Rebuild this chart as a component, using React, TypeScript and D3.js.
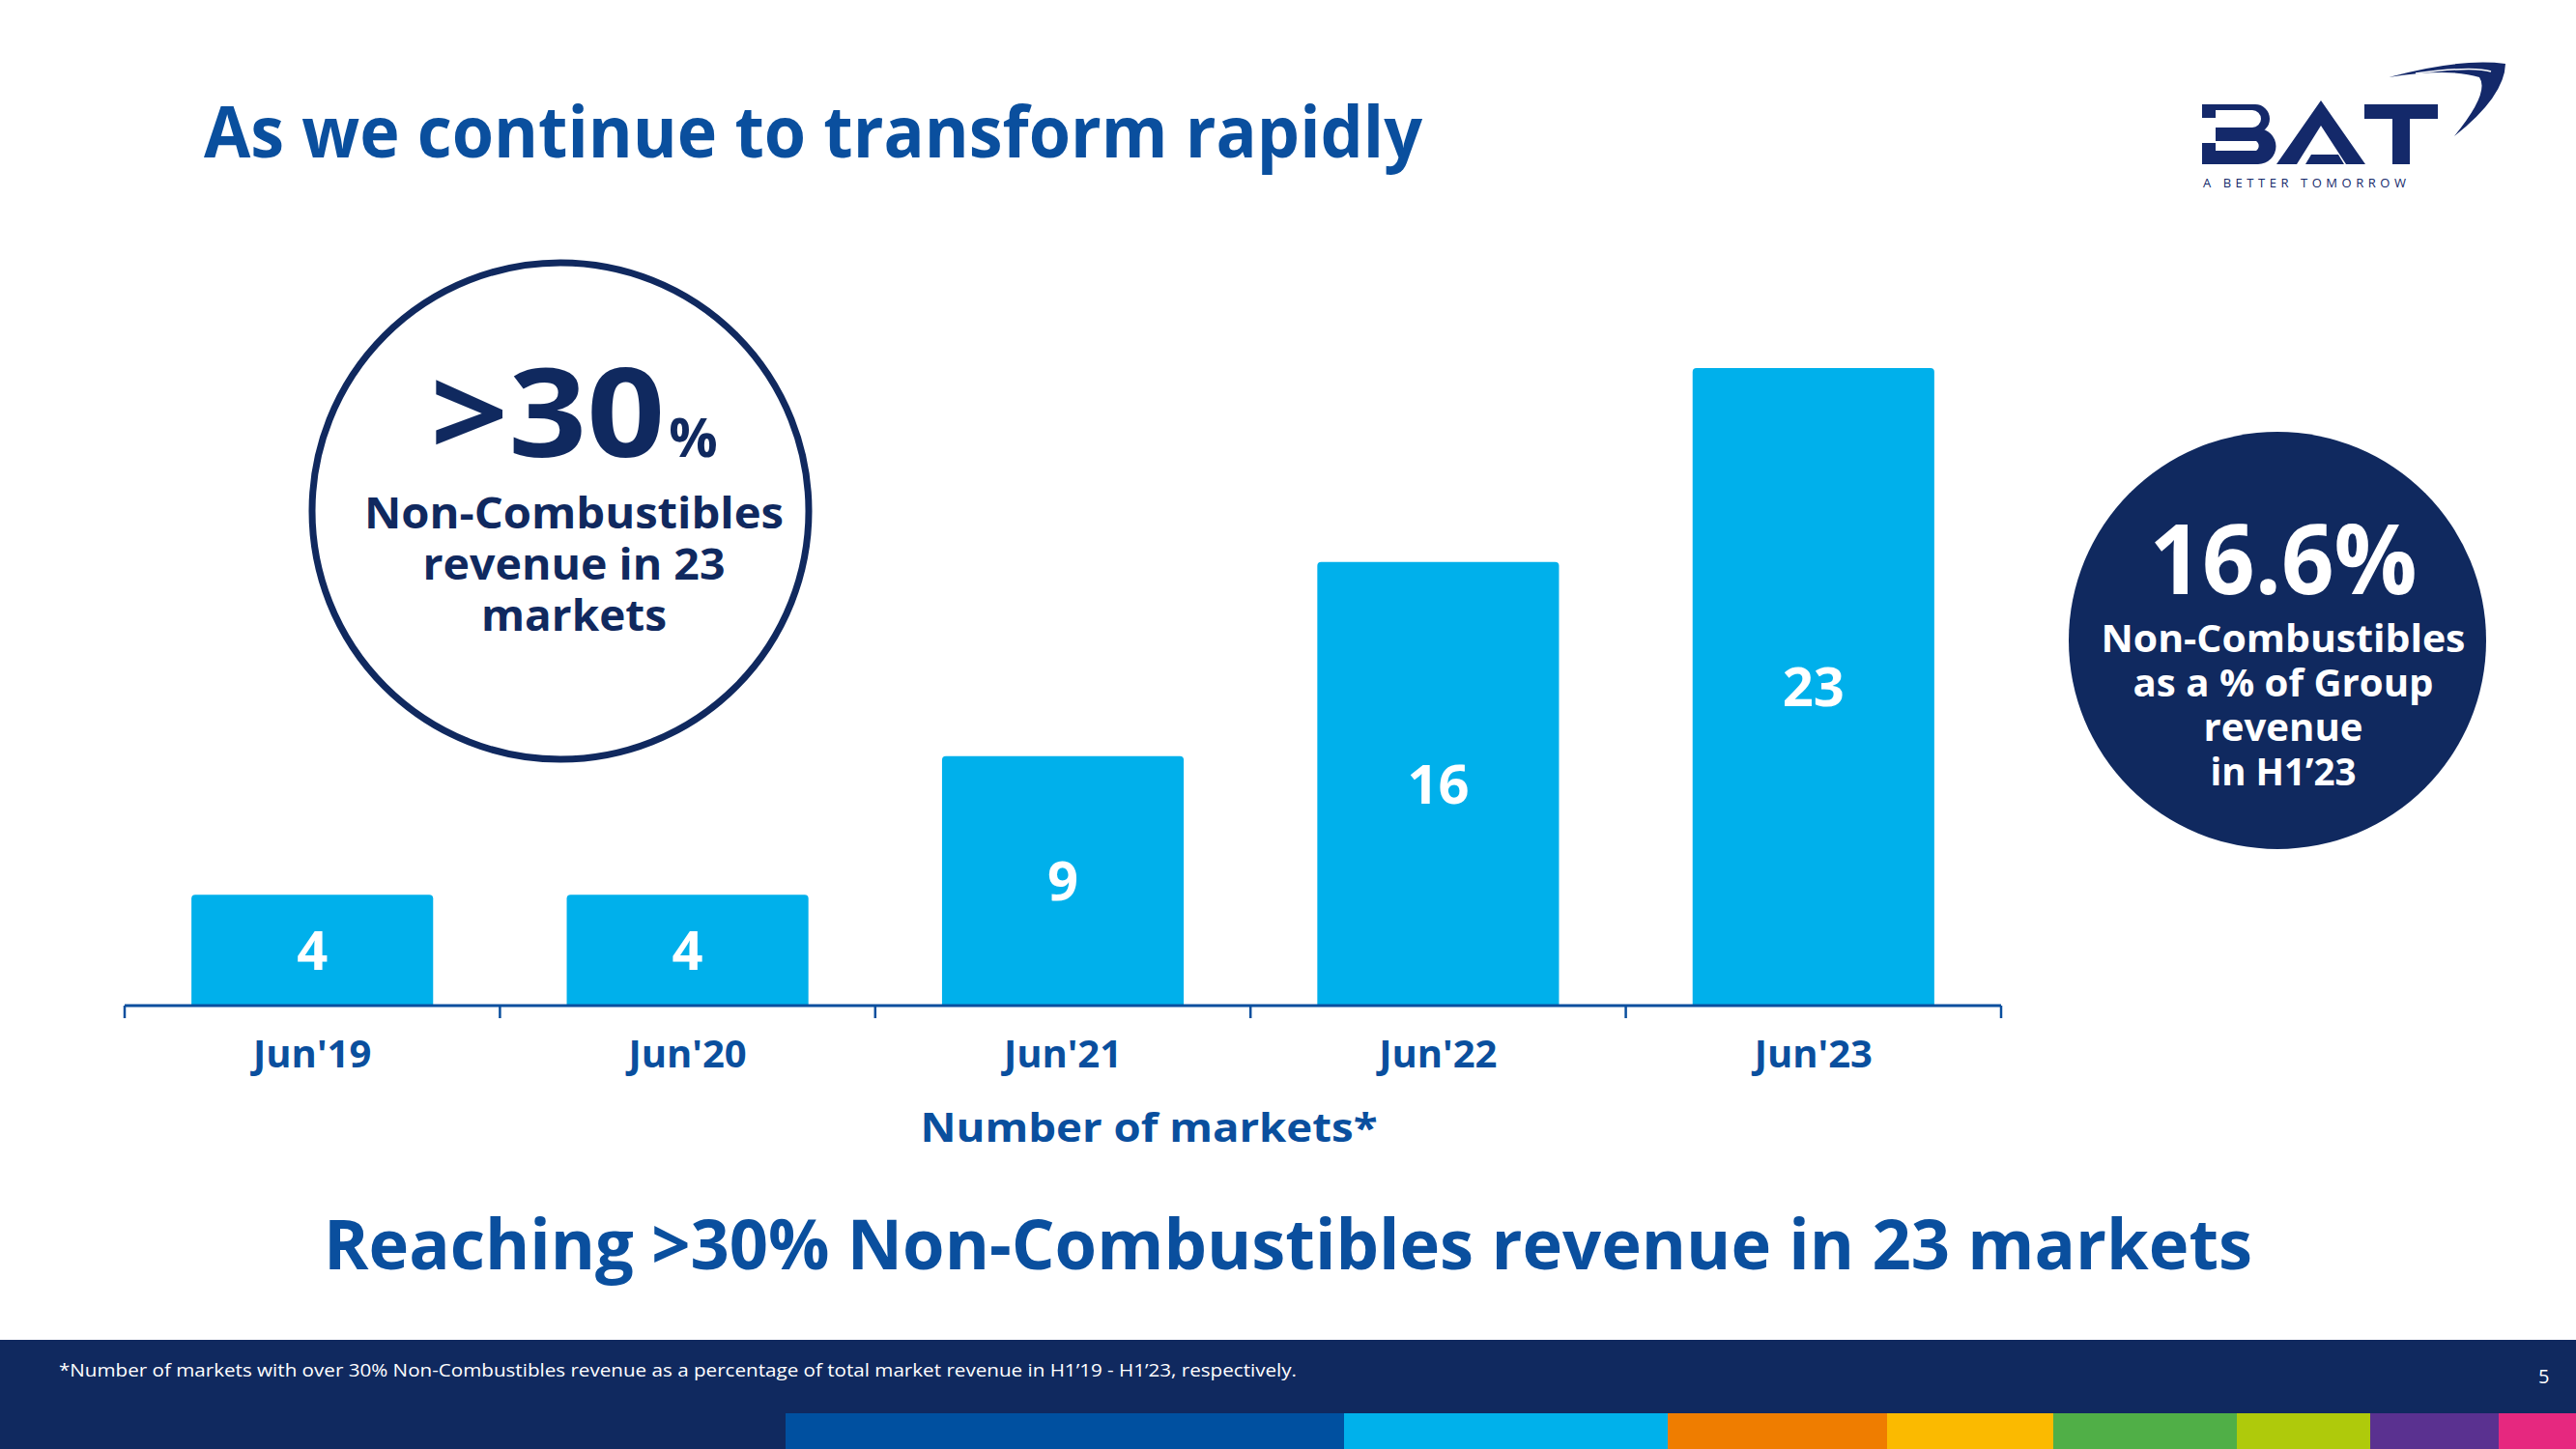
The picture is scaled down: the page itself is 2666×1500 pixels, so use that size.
import React from 'react';
import * as d3 from 'd3';

// ---------- data ----------
const categories: string[] = ["Jun'19", "Jun'20", "Jun'21", "Jun'22", "Jun'23"];
const markets: number[] = [4, 4, 9, 16, 23];
const axisTitle = 'Number of markets*';
const title = 'As we continue to transform rapidly';
const headline = 'Reaching >30% Non-Combustibles revenue in 23 markets';
const leftCircleLines: string[] = ['Non-Combustibles', 'revenue in 23', 'markets'];
const rightCircleLines: string[] = ['Non-Combustibles', 'as a % of Group', 'revenue', 'in H1\u201923'];
const footnote =
  '*Number of markets with over 30% Non-Combustibles revenue as a percentage of total market revenue in H1\u201919 - H1\u201923, respectively.';
const stripColors: string[] = ['#0050a0', '#00b1eb', '#ef7d00', '#fbba00', '#50af47', '#afca0b', '#5a3190', '#e6287f'];

// ---------- layout ----------
const W = 2666;
const H = 1500;
const stripEdges = [813, 1391, 1726, 1953, 2125, 2315, 2453, 2586, 2666];
const NAVY = '#10295f';
const BLUE = '#0a4f9e';
const CYAN = '#00b0eb';
const FONT = "'Open Sans', 'Noto Sans', sans-serif";

const x = d3.scaleBand<string>().domain(categories).range([129, 2071]).paddingInner(0.356).paddingOuter(0.178);
const y = d3.scaleLinear().domain([0, 23]).range([1041, 381]);

function topRoundedBar(x0: number, y0: number, w: number, h: number, r: number) {
  const p = d3.path();
  p.moveTo(x0, y0 + h);
  p.lineTo(x0, y0 + r);
  p.arcTo(x0, y0, x0 + r, y0, r);
  p.lineTo(x0 + w - r, y0);
  p.arcTo(x0 + w, y0, x0 + w, y0 + r, r);
  p.lineTo(x0 + w, y0 + h);
  p.closePath();
  return p.toString();
}

const leftWidths = [434, 313, 192];
const rightWidths = [377, 311, 165, 151];

function Logo() {
  const c = '#14296a';
  return (
    <g>
      {/* B */}
      <path
        d="M2279,108 H2334 A15,15 0 0 1 2334,138 H2293 V132 H2331 A9,9 0 0 0 2331,114 H2279 Z"
        fill={c}
      />
      <path d="M2279,108 H2293 V122 H2279 Z" fill={c} />
      <path d="M2293,133 H2337 A18.5,18.5 0 0 1 2337,170 H2279 V148 H2293 V156 H2335 A6,6 0 0 0 2335,146 H2293 Z" fill={c} />
      {/* A */}
      <path d="M2402,104 L2448,170 H2428 L2402,130 L2377,170 H2356 Z" fill={c} />
      <path d="M2392,160 L2420,160 L2426,170 L2386,170 Z" fill={c} />
      {/* T */}
      <path d="M2447,108 H2523 V123 H2494 V170 H2476 V123 H2447 Z" fill={c} />
      {/* swoosh */}
      <path d="M2472,80 Q2545,60 2593,66 Q2592,100 2540,141 Q2577,96 2566,80 Q2535,70 2472,80 Z" fill={c} />
      <path d="M2500,76 Q2560,68 2578,74" fill="none" stroke="#fff" strokeWidth={1.5} />
      <text x={2280} y={194} fontFamily={FONT} fontSize={13} fill={c} textLength={210} lengthAdjust="spacing">
        A BETTER TOMORROW
      </text>
    </g>
  );
}

export default function App() {
  const step = x.step();
  const tickXs = d3.range(categories.length + 1).map((i) => 129 + step * i);
  const lcx = 594;
  const rcx = 2363;
  return (
    <svg
      width={W}
      height={H}
      viewBox={`0 0 ${W} ${H}`}
      style={{ position: 'absolute', left: 0, top: 0, display: 'block', background: '#fff' }}
    >
      <rect x={0} y={0} width={W} height={H} fill="#fff" />

      {/* title */}
      <text x={211} y={163} fontFamily={FONT} fontWeight={700} fontSize={74} fill={BLUE} textLength={1261} lengthAdjust="spacingAndGlyphs">
        {title}
      </text>

      <Logo />

      {/* bars */}
      {categories.map((cat, i) => {
        const bx = x(cat)!;
        const bw = x.bandwidth();
        const top = y(markets[i]);
        const h = y(0) - top;
        return (
          <g key={cat}>
            <path d={topRoundedBar(bx, top, bw, h, 4)} fill={CYAN} />
            <text
              x={bx + bw / 2}
              y={top + h / 2}
              dy="0.36em"
              textAnchor="middle"
              fontFamily={FONT}
              fontWeight={700}
              fontSize={56}
              fill="#fff"
            >
              {markets[i]}
            </text>
          </g>
        );
      })}

      {/* axis */}
      <line x1={tickXs[0]} x2={tickXs[tickXs.length - 1]} y1={y(0)} y2={y(0)} stroke={BLUE} strokeWidth={3} />
      {tickXs.map((tx, i) => (
        <line key={i} x1={tx} x2={tx} y1={y(0)} y2={y(0) + 13} stroke={BLUE} strokeWidth={2.5} />
      ))}
      {categories.map((cat) => (
        <text
          key={cat}
          x={x(cat)! + x.bandwidth() / 2}
          y={1105}
          textAnchor="middle"
          fontFamily={FONT}
          fontWeight={700}
          fontSize={40}
          fill={BLUE}
        >
          {cat}
        </text>
      ))}
      <text x={1189} y={1182} textAnchor="middle" fontFamily={FONT} fontWeight={700} fontSize={42} fill={BLUE} textLength={473} lengthAdjust="spacingAndGlyphs">
        {axisTitle}
      </text>

      {/* left circle */}
      <circle cx={580} cy={529} r={257} fill="none" stroke={NAVY} strokeWidth={7} />
      <text x={lcx} y={473} textAnchor="middle" fontFamily={FONT} fontWeight={700} fill={NAVY}>
        <tspan fontSize={128} textLength={243} lengthAdjust="spacingAndGlyphs">&gt;30</tspan>
        <tspan fontSize={56} dx={4}>%</tspan>
      </text>
      {leftCircleLines.map((t, i) => (
        <text
          key={t}
          x={lcx}
          y={547 + i * 53}
          textAnchor="middle"
          fontFamily={FONT}
          fontWeight={700}
          fontSize={44}
          fill={NAVY}
          textLength={leftWidths[i]}
          lengthAdjust="spacingAndGlyphs"
        >
          {t}
        </text>
      ))}

      {/* right circle */}
      <circle cx={2357} cy={663} r={216} fill={NAVY} />
      <text x={rcx} y={615} textAnchor="middle" fontFamily={FONT} fontWeight={700} fontSize={100} fill="#fff" textLength={277} lengthAdjust="spacingAndGlyphs">
        16.6%
      </text>
      {rightCircleLines.map((t, i) => (
        <text
          key={t}
          x={rcx}
          y={675 + i * 46}
          textAnchor="middle"
          fontFamily={FONT}
          fontWeight={700}
          fontSize={40}
          fill="#fff"
          textLength={rightWidths[i]}
          lengthAdjust="spacingAndGlyphs"
        >
          {t}
        </text>
      ))}

      {/* headline */}
      <text x={1333} y={1314} textAnchor="middle" fontFamily={FONT} fontWeight={700} fontSize={72} fill={BLUE} textLength={1996} lengthAdjust="spacingAndGlyphs">
        {headline}
      </text>

      {/* footer */}
      <rect x={0} y={1387} width={W} height={H - 1387} fill={NAVY} />
      <text x={61} y={1425} fontFamily={FONT} fontSize={19} fill="#fff" textLength={1281} lengthAdjust="spacingAndGlyphs">
        {footnote}
      </text>
      <text x={2627} y={1432} fontFamily={FONT} fontSize={20} fill="#fff">
        5
      </text>
      {stripColors.map((c, i) => (
        <rect key={c} x={stripEdges[i]} y={1463} width={stripEdges[i + 1] - stripEdges[i]} height={H - 1463} fill={c} />
      ))}
    </svg>
  );
}
